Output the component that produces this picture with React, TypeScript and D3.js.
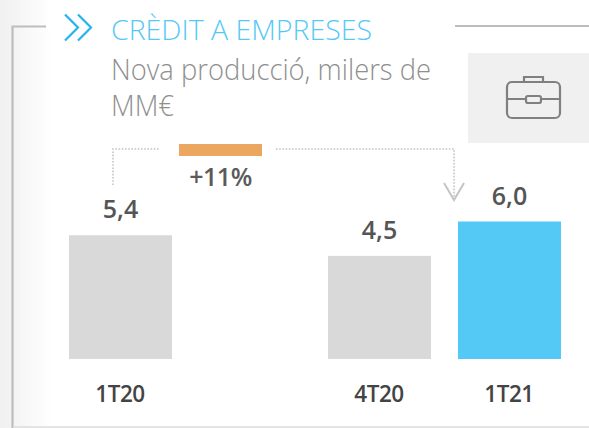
import React from "react";
import * as d3 from "d3";

const categories = ["1T20", "4T20", "1T21"];
const values = [5.4, 4.5, 6.0];
const labels = ["5,4", "4,5", "6,0"];
const colors = ["#d9d9d9", "#d9d9d9", "#55c9f6"];
const growthLabel = "+11%";
const titleText = "CRÈDIT A EMPRESES";
const subtitleLines = ["Nova producció, milers de", "MM€"];

const W = 589, H = 428;
const xPos = d3.scaleOrdinal<string, number>().domain(categories).range([69, 328, 458]);
const barW = 103;
const y = d3.scaleLinear().domain([0, 6]).range([359, 221.5]);
const font = "'Open Sans', 'Noto Sans', sans-serif";

export default function App() {
  return (
    <svg width={W} height={H} style={{ position: "fixed", left: 0, top: 0, background: "#fff" }}>
      <defs>
        <linearGradient id="bg" x1="0" x2="1" y1="0" y2="0">
          <stop offset="0" stopColor="#f0f0f0" />
          <stop offset="1" stopColor="#ffffff" />
        </linearGradient>
      </defs>
      <rect x={0} y={0} width={52} height={H} fill="url(#bg)" />
      <rect x={47} y={0} width={400} height={26} fill="#fff" />
      {/* frame */}
      <path d="M46,26.5H12.5V428" fill="none" stroke="#bdbdbd" strokeWidth={2.2} />
      <path d="M455,26H589" fill="none" stroke="#bdbdbd" strokeWidth={2} />
      <path d="M13,427H589" fill="none" stroke="#dcdcdc" strokeWidth={1.5} />
      {/* chevrons */}
      <g fill="none" stroke="#25b5ee" strokeWidth={2.2}>
        <path d="M65,14.5L78,27.5L65,40.5" />
        <path d="M78,14.5L91,27.5L78,40.5" />
      </g>
      <text x={111} y={40} fontFamily={font} fontWeight={300} fontSize={28} fill="#55c9f6" textLength={261} lengthAdjust="spacingAndGlyphs">{titleText}</text>
      {subtitleLines.map((t, i) => (
        <text key={t} x={111} y={80 + i * 36} fontFamily={font} fontWeight={300} fontSize={29} fill="#8f8f8f"
          textLength={i === 0 ? 320 : 63} lengthAdjust="spacingAndGlyphs">{t}</text>
      ))}
      {/* icon */}
      <rect x={468} y={53} width={121} height={90} fill="#f0f0f0" />
      <g fill="none" stroke="#808080" strokeWidth={2.2}>
        <rect x={507} y={82} width={53} height={36} rx={5} />
        <path d="M524,81.5V77H543V81.5" />
        <path d="M507,99H526M541,99H560" />
        <rect x={526} y={96} width={15} height={7} rx={2} />
      </g>
      {/* connector */}
      <g fill="none" stroke="#c4c4c4" strokeWidth={1.6} strokeDasharray="1.6 1.6">
        <path d="M113,185V149H159" />
        <path d="M276,149H454V198" />
      </g>
      <path d="M444,183L454,200L464,183" fill="none" stroke="#c4c4c4" strokeWidth={2} />
      <rect x={179} y={144} width={83} height={12} fill="#eba75f" />
      <text x={220.5} y={186} textAnchor="middle" fontFamily={font} fontWeight={600} fontSize={25} fill="#5a5a5a" letterSpacing={-0.5}>{growthLabel}</text>
      {/* bars */}
      {categories.map((c, i) => {
        const x0 = xPos(c) as number;
        const top = y(values[i]);
        return (
          <g key={c}>
            <rect x={x0} y={top} width={barW} height={y(0) - top} fill={colors[i]} />
            <text x={x0 + barW / 2} y={top - 17} textAnchor="middle" fontFamily={font} fontWeight={600} fontSize={25} fill="#555">{labels[i]}</text>
            <text x={x0 + barW / 2 - 0.5} y={402} textAnchor="middle" fontFamily={font} fontWeight={600} fontSize={22.5} fill="#444" letterSpacing={-0.5}>{c}</text>
          </g>
        );
      })}
    </svg>
  );
}
